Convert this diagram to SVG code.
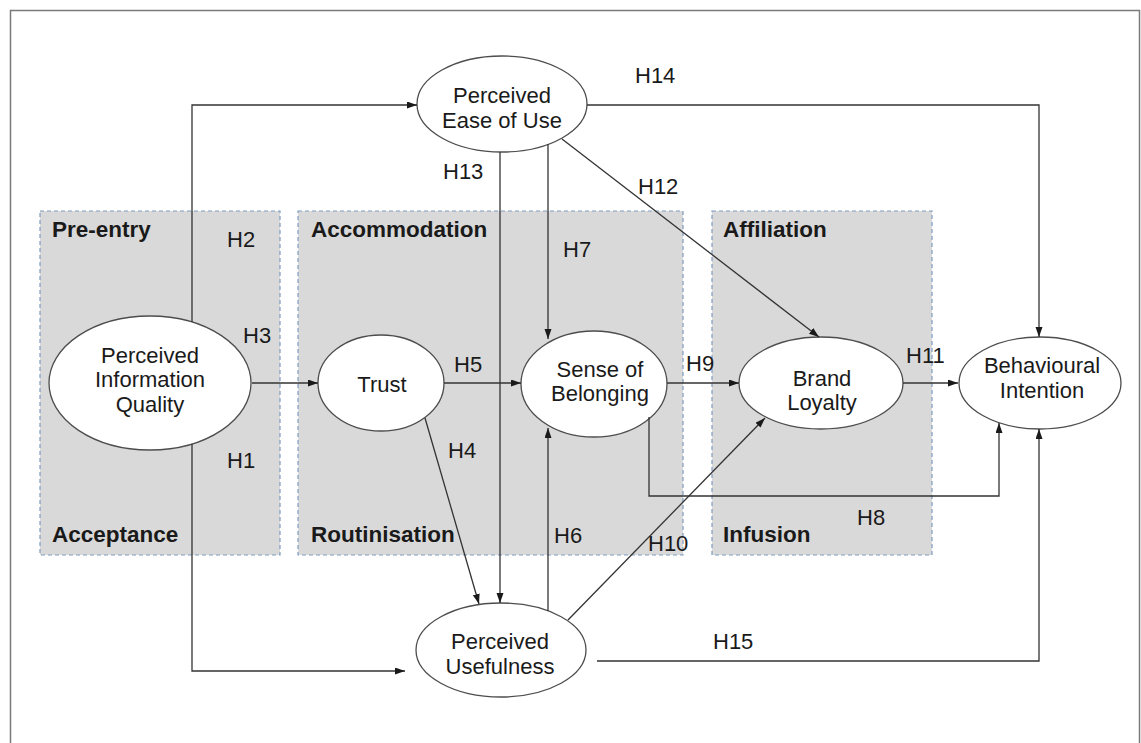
<svg xmlns="http://www.w3.org/2000/svg" width="1141" height="743" viewBox="0 0 1141 743">
  <style>
    text { font-family: "Liberation Sans", Arial, sans-serif; fill: #1a1a1a; }
    .stage { fill: #d9d9d9; stroke: #7f9cc0; stroke-width: 1.2; stroke-dasharray: 4 3; }
    .stage-label { font-size: 22.5px; font-weight: bold; }
    .node { fill: #ffffff; stroke: #4d4d4d; stroke-width: 1.3; }
    .node-label { font-size: 22px; text-anchor: middle; }
    .conn { fill: none; stroke: #333333; stroke-width: 1.3; }
    .hyp { font-size: 22px; }
  </style>
  <defs>
    <marker id="arrow" markerUnits="userSpaceOnUse" markerWidth="11" markerHeight="8" refX="10" refY="3.5" orient="auto">
      <path d="M0,0 L10,3.5 L0,7 z" fill="#1a1a1a"/>
    </marker>
  </defs>

  <rect width="1141" height="743" fill="#ffffff"/>
  <!-- frame -->
  <rect x="10.5" y="10.5" width="1129" height="780" fill="none" stroke="#7a7a7a" stroke-width="1.5"/>

  <!-- stage panels -->
  <g id="stage-preentry">
    <rect class="stage" x="40" y="211" width="240" height="344"/>
    <text class="stage-label" x="52" y="237">Pre-entry</text>
    <text class="stage-label" x="52" y="542">Acceptance</text>
  </g>
  <g id="stage-accommodation">
    <rect class="stage" x="298" y="211" width="385" height="344"/>
    <text class="stage-label" x="311" y="237">Accommodation</text>
    <text class="stage-label" x="311" y="542">Routinisation</text>
  </g>
  <g id="stage-affiliation">
    <rect class="stage" x="712" y="211" width="220" height="344"/>
    <text class="stage-label" x="723" y="237">Affiliation</text>
    <text class="stage-label" x="723" y="542">Infusion</text>
  </g>

  <!-- nodes -->
  <g id="node-piq">
    <ellipse class="node" cx="150" cy="383" rx="101" ry="67"/>
    <text class="node-label" x="150" y="363">Perceived</text>
    <text class="node-label" x="150" y="387">Information</text>
    <text class="node-label" x="150" y="412">Quality</text>
  </g>
  <g id="node-peou">
    <ellipse class="node" cx="502" cy="104" rx="85" ry="48"/>
    <text class="node-label" x="502" y="103">Perceived</text>
    <text class="node-label" x="502" y="128">Ease of Use</text>
  </g>
  <g id="node-trust">
    <ellipse class="node" cx="381" cy="383" rx="63" ry="48"/>
    <text class="node-label" x="382" y="392">Trust</text>
  </g>
  <g id="node-sob">
    <ellipse class="node" cx="594" cy="384" rx="73" ry="53"/>
    <text class="node-label" x="600" y="377">Sense of</text>
    <text class="node-label" x="600" y="401">Belonging</text>
  </g>
  <g id="node-bl">
    <ellipse class="node" cx="821" cy="383" rx="82" ry="46"/>
    <text class="node-label" x="822" y="386">Brand</text>
    <text class="node-label" x="822" y="410">Loyalty</text>
  </g>
  <g id="node-bi">
    <ellipse class="node" cx="1040" cy="383" rx="81" ry="46"/>
    <text class="node-label" x="1042" y="373">Behavioural</text>
    <text class="node-label" x="1042" y="398">Intention</text>
  </g>
  <g id="node-pu">
    <ellipse class="node" cx="501" cy="650" rx="85" ry="47"/>
    <text class="node-label" x="500" y="649">Perceived</text>
    <text class="node-label" x="500" y="674">Usefulness</text>
  </g>

  <!-- connectors -->
  <g id="connectors">
    <polyline class="conn" points="192,322 192,105 417,105" marker-end="url(#arrow)"/>
    <polyline class="conn" points="192,444 192,671 405,671" marker-end="url(#arrow)"/>
    <line class="conn" x1="252" y1="383" x2="318" y2="383" marker-end="url(#arrow)"/>
    <line class="conn" x1="444" y1="383" x2="521" y2="383" marker-end="url(#arrow)"/>
    <line class="conn" x1="667" y1="383" x2="739" y2="383" marker-end="url(#arrow)"/>
    <line class="conn" x1="903" y1="383" x2="958" y2="383" marker-end="url(#arrow)"/>
    <polyline class="conn" points="587,105 1039,105 1039,337" marker-end="url(#arrow)"/>
    <line class="conn" x1="500" y1="152" x2="500" y2="603" marker-end="url(#arrow)"/>
    <line class="conn" x1="548" y1="144" x2="548" y2="339" marker-end="url(#arrow)"/>
    <line class="conn" x1="562" y1="139" x2="819" y2="337" marker-end="url(#arrow)"/>
    <line class="conn" x1="425" y1="418" x2="479" y2="604" marker-end="url(#arrow)"/>
    <line class="conn" x1="548" y1="611" x2="548" y2="428" marker-end="url(#arrow)"/>
    <line class="conn" x1="568" y1="620" x2="765" y2="418" marker-end="url(#arrow)"/>
    <polyline class="conn" points="649,417 649,496 999,496 999,423" marker-end="url(#arrow)"/>
    <polyline class="conn" points="597,661 1039,661 1039,429" marker-end="url(#arrow)"/>
  </g>

  <!-- hypothesis labels -->
  <g id="hypotheses">
    <text class="hyp" x="227" y="247">H2</text>
    <text class="hyp" x="243" y="343">H3</text>
    <text class="hyp" x="227" y="468">H1</text>
    <text class="hyp" x="454" y="372">H5</text>
    <text class="hyp" x="448" y="458">H4</text>
    <text class="hyp" x="554" y="543">H6</text>
    <text class="hyp" x="563" y="257">H7</text>
    <text class="hyp" x="857" y="525">H8</text>
    <text class="hyp" x="686" y="371">H9</text>
    <text class="hyp" x="648" y="551">H10</text>
    <text class="hyp" x="906" y="363">H11</text>
    <text class="hyp" x="638" y="194">H12</text>
    <text class="hyp" x="443" y="179">H13</text>
    <text class="hyp" x="635" y="83">H14</text>
    <text class="hyp" x="713" y="649">H15</text>
  </g>
</svg>
